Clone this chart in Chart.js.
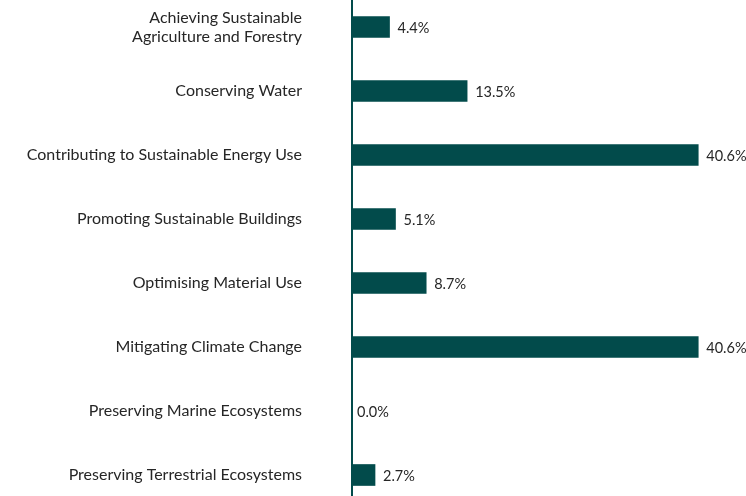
<!DOCTYPE html>
<html>
<head>
<meta charset="utf-8">
<script src="https://cdn.jsdelivr.net/npm/chart.js@4"></script>
<style>
html,body{margin:0;padding:0;background:#fff;overflow:hidden;width:746px;height:496px;}
#wrap{position:absolute;left:0;top:-5px;width:746px;height:512px;}
</style>
</head>
<body>
<div id="wrap"><canvas id="c"></canvas></div>
<script>
const categories = [
  ["Achieving Sustainable", "Agriculture and Forestry"],
  "Conserving Water",
  "Contributing to Sustainable Energy Use",
  "Promoting Sustainable Buildings",
  "Optimising Material Use",
  "Mitigating Climate Change",
  "Preserving Marine Ecosystems",
  "Preserving Terrestrial Ecosystems"
];
const values = [4.4, 13.5, 40.6, 5.1, 8.7, 40.6, 0.0, 2.7];
const valueLabels = ["4.4%", "13.5%", "40.6%", "5.1%", "8.7%", "40.6%", "0.0%", "2.7%"];

const FONT = "Lato, 'Open Sans', sans-serif";
const BAR = "#024B4B";

const valueLabelPlugin = {
  id: 'valueLabels',
  afterDatasetsDraw(chart) {
    const ctx = chart.ctx;
    const meta = chart.getDatasetMeta(0);
    ctx.save();
    ctx.font = "14.5px " + FONT;
    ctx.fillStyle = "#262626";
    ctx.textAlign = "left";
    ctx.textBaseline = "middle";
    meta.data.forEach((el, i) => {
      const gap = values[i] === 0 ? 5 : 8;
      ctx.fillText(valueLabels[i], el.x + gap, el.y + 1);
    });
    ctx.restore();
  }
};

new Chart(document.getElementById('c'), {
  type: 'bar',
  data: {
    labels: categories,
    datasets: [{
      data: values,
      backgroundColor: BAR,
      borderWidth: 0,
      barThickness: 21
    }]
  },
  options: {
    indexAxis: 'y',
    responsive: true,
    maintainAspectRatio: false,
    animation: false,
    layout: { padding: 0 },
    plugins: { legend: { display: false }, tooltip: { enabled: false } },
    scales: {
      x: {
        display: false,
        min: 0,
        max: 46.2
      },
      y: {
        afterFit(scale) {
          scale.width = 352;
          scale.paddingTop = 0;
          scale.paddingBottom = 0;
        },
        grid: { display: false, drawTicks: false },
        border: { display: true, color: BAR, width: 2 },
        ticks: {
          padding: 50,
          color: "#262626",
          font: { family: FONT, size: 16, lineHeight: 1.2 },
          crossAlign: 'near'
        }
      }
    }
  },
  plugins: [valueLabelPlugin]
});
</script>
</body>
</html>
